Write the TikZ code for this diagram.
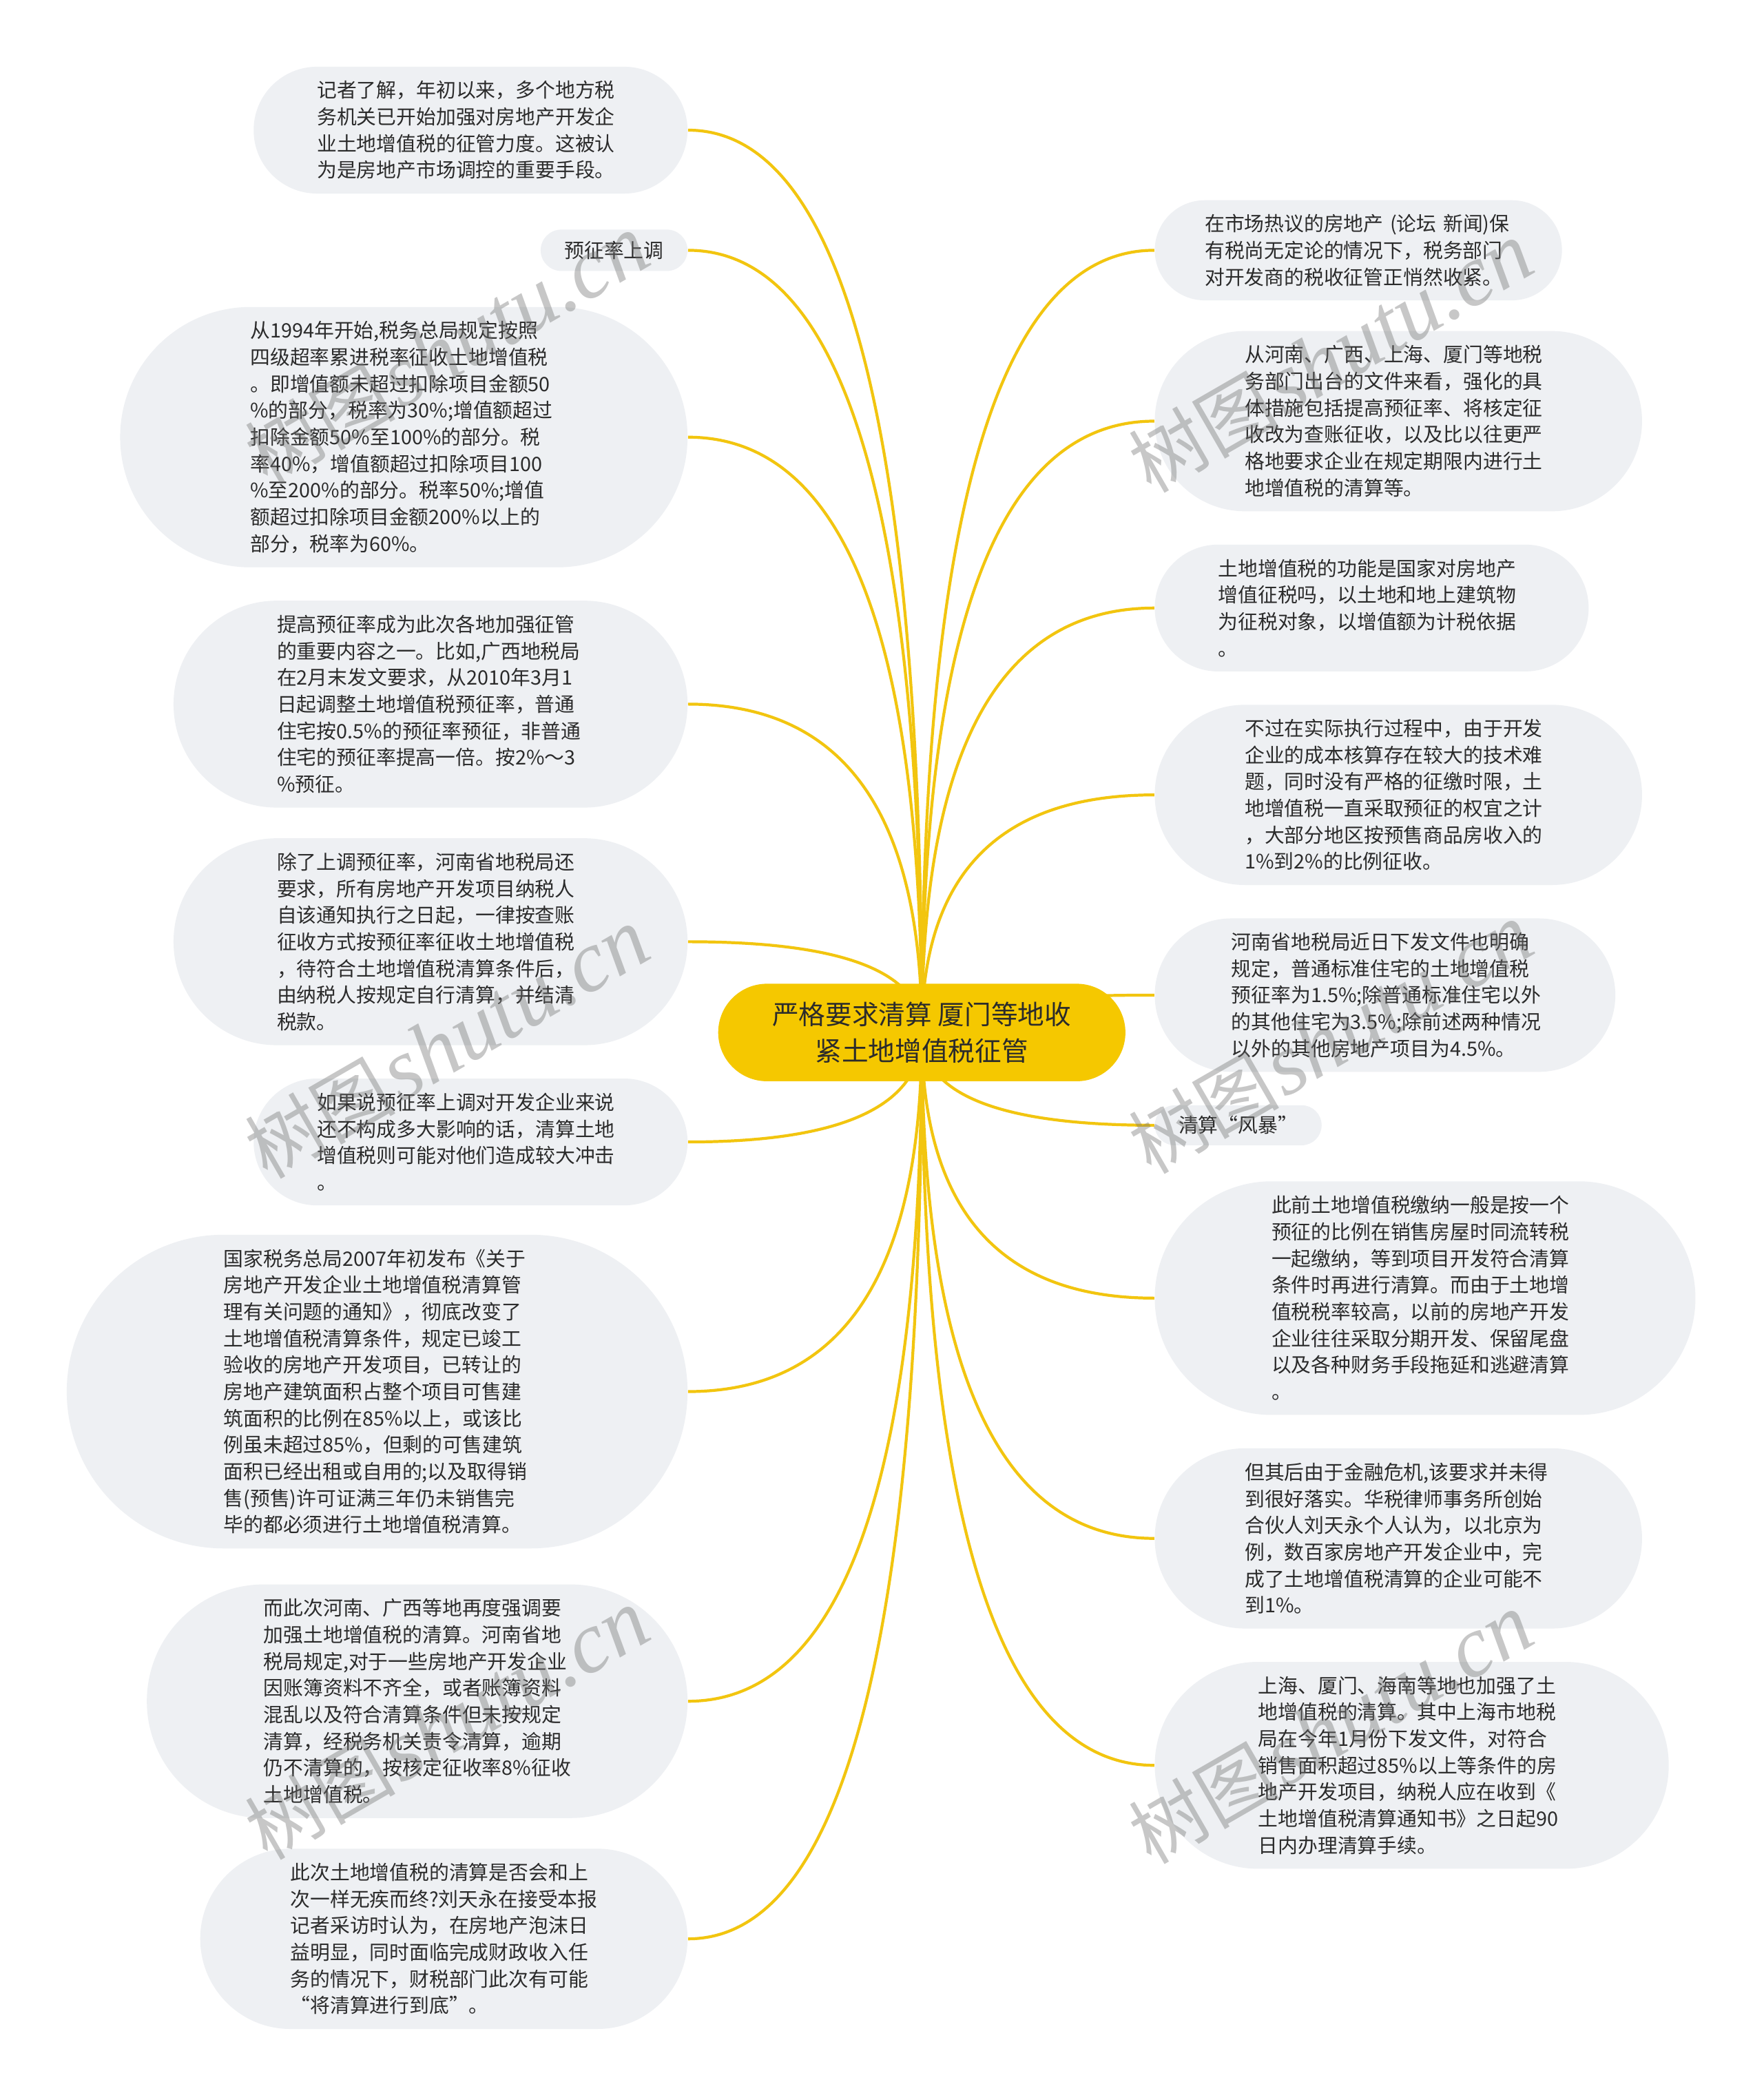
\documentclass[tikz,border=0pt]{standalone}
\usepackage{fontspec}
\setmainfont{Noto Sans CJK SC}
\newfontfamily\cjkf{Noto Sans CJK SC}
\newfontfamily\wmlat{Liberation Serif}
\usetikzlibrary{calc,backgrounds}
\definecolor{bubbg}{HTML}{EEF0F3}
\definecolor{gold}{HTML}{F5C800}
\definecolor{linec}{HTML}{F2C50F}
\definecolor{txt}{HTML}{2B2B2B}
\tikzset{
  bub/.style={fill=bubbg, draw=none, minimum width=(230+#1)*0.01938cm,
    minimum height=#1*0.01938cm, rounded corners=#1*0.00969cm,
    text width=4.457cm, align=left, inner sep=0pt, text=txt,
    font=\fontsize{8.2pt}{11pt}\selectfont},
  tag/.style 2 args={fill=bubbg, draw=none, minimum width=#1*0.01938cm,
    minimum height=#2*0.01938cm, rounded corners=#2*0.00969cm,
    inner sep=0pt, text=txt, font=\fontsize{8.2pt}{11pt}\selectfont},
  cnode/.style={fill=gold, draw=none, minimum width=5.911cm, minimum height=1.415cm,
    rounded corners=0.707cm, inner sep=0pt, align=center, text=txt,
    font=\fontsize{11pt}{14.9pt}\selectfont},
  conn/.style={draw=linec, line width=1.2pt},
  wm/.style={text=black!55, opacity=0.4, rotate=30, inner sep=0pt}
}
\newcommand{\lnk}[2]{%
  \coordinate (q) at (C.center |- #1.#2);
  \draw[conn] (C.center) .. controls ($(C.center)!0.6667!(q)$) and ($(#1.#2)!0.6667!(q)$) .. (#1.#2);}
\begin{document}
\begin{tikzpicture}[x=0.01938cm, y=-0.01938cm]
\useasboundingbox (0,0) rectangle (1321,1568);

% center
\node[cnode] (C) at (690.5,773.5) {严格要求清算 厦门等地收\\紧土地增值税征管};

% left column
\node[bub=95] (L1) at (352.5,97.5) {记者了解，年初以来，多个地方税\\务机关已开始加强对房地产开发企\\业土地增值税的征管力度。这被认\\为是房地产市场调控的重要手段。};
\node[tag={110}{31}] (L2) at (460,187.5) {预征率上调};
\node[bub=195] (L3) at (302.5,327.5) {从1994年开始,税务总局规定按照\\四级超率累进税率征收土地增值税\\。即增值额未超过扣除项目金额50\\\%的部分，税率为30\%;增值额超过\\扣除金额50\%至100\%的部分。税\\率40\%，增值额超过扣除项目100\\\%至200\%的部分。税率50\%;增值\\额超过扣除项目金额200\%以上的\\部分，税率为60\%。};
\node[bub=155] (L4) at (322.5,527.5) {提高预征率成为此次各地加强征管\\的重要内容之一。比如,广西地税局\\在2月末发文要求，从2010年3月1\\日起调整土地增值税预征率，普通\\住宅按0.5\%的预征率预征，非普通\\住宅的预征率提高一倍。按2\%～3\\\%预征。};
\node[bub=155] (L5) at (322.5,705.5) {除了上调预征率，河南省地税局还\\要求，所有房地产开发项目纳税人\\自该通知执行之日起，一律按查账\\征收方式按预征率征收土地增值税\\，待符合土地增值税清算条件后，\\由纳税人按规定自行清算，并结清\\税款。};
\node[bub=95] (L6) at (352.5,855.5) {如果说预征率上调对开发企业来说\\还不构成多大影响的话，清算土地\\增值税则可能对他们造成较大冲击\\。};
\node[bub=235] (L7) at (282.5,1042.5) {国家税务总局2007年初发布《关于\\房地产开发企业土地增值税清算管\\理有关问题的通知》，彻底改变了\\土地增值税清算条件，规定已竣工\\验收的房地产开发项目，已转让的\\房地产建筑面积占整个项目可售建\\筑面积的比例在85\%以上，或该比\\例虽未超过85\%，但剩的可售建筑\\面积已经出租或自用的;以及取得销\\售(预售)许可证满三年仍未销售完\\毕的都必须进行土地增值税清算。};
\node[bub=175] (L8) at (312.5,1274.5) {而此次河南、广西等地再度强调要\\加强土地增值税的清算。河南省地\\税局规定,对于一些房地产开发企业\\因账簿资料不齐全，或者账簿资料\\混乱以及符合清算条件但未按规定\\清算，经税务机关责令清算，逾期\\仍不清算的，按核定征收率8\%征收\\土地增值税。};
\node[bub=135] (L9) at (332.5,1452.5) {此次土地增值税的清算是否会和上\\次一样无疾而终?刘天永在接受本报\\记者采访时认为，在房地产泡沫日\\益明显，同时面临完成财政收入任\\务的情况下，财税部门此次有可能\\“将清算进行到底”。};

% right column
\node[bub=75] (R1) at (1017.5,187.5) {在市场热议的房地产~(论坛~新闻)保\\有税尚无定论的情况下，税务部门\\对开发商的税收征管正悄然收紧。};
\node[bub=135] (R2) at (1047.5,315.5) {从河南、广西、上海、厦门等地税\\务部门出台的文件来看，强化的具\\体措施包括提高预征率、将核定征\\收改为查账征收，以及比以往更严\\格地要求企业在规定期限内进行土\\地增值税的清算等。};
\node[bub=95] (R3) at (1027.5,455.5) {土地增值税的功能是国家对房地产\\增值征税吗，以土地和地上建筑物\\为征税对象，以增值额为计税依据\\。};
\node[bub=135] (R4) at (1047.5,595.5) {不过在实际执行过程中，由于开发\\企业的成本核算存在较大的技术难\\题，同时没有严格的征缴时限，土\\地增值税一直采取预征的权宜之计\\，大部分地区按预售商品房收入的\\1\%到2\%的比例征收。};
\node[bub=115] (R5) at (1037.5,745.5) {河南省地税局近日下发文件也明确\\规定，普通标准住宅的土地增值税\\预征率为1.5\%;除普通标准住宅以外\\的其他住宅为3.5\%;除前述两种情况\\以外的其他房地产项目为4.5\%。};
\node[tag={125}{30}] (R6) at (927.5,843) {清算“风暴”};
\node[bub=175] (R7) at (1067.5,972.5) {此前土地增值税缴纳一般是按一个\\预征的比例在销售房屋时同流转税\\一起缴纳，等到项目开发符合清算\\条件时再进行清算。而由于土地增\\值税税率较高，以前的房地产开发\\企业往往采取分期开发、保留尾盘\\以及各种财务手段拖延和逃避清算\\。};
\node[bub=135] (R8) at (1047.5,1152.5) {但其后由于金融危机,该要求并未得\\到很好落实。华税律师事务所创始\\合伙人刘天永个人认为，以北京为\\例，数百家房地产开发企业中，完\\成了土地增值税清算的企业可能不\\到1\%。};
\node[bub=155] (R9) at (1057.5,1322.5) {上海、厦门、海南等地也加强了土\\地增值税的清算。其中上海市地税\\局在今年1月份下发文件，对符合\\销售面积超过85\%以上等条件的房\\地产开发项目，纳税人应在收到《\\土地增值税清算通知书》之日起90\\日内办理清算手续。};

\begin{scope}[on background layer]
  \fill[white] (0,0) rectangle (1321,1568);
  \lnk{L1}{east}\lnk{L2}{east}\lnk{L3}{east}\lnk{L4}{east}\lnk{L5}{east}
  \lnk{L6}{east}\lnk{L7}{east}\lnk{L8}{east}\lnk{L9}{east}
  \lnk{R1}{west}\lnk{R2}{west}\lnk{R3}{west}\lnk{R4}{west}\lnk{R5}{west}
  \lnk{R6}{west}\lnk{R7}{west}\lnk{R8}{west}\lnk{R9}{west}
\end{scope}

% watermarks
\foreach \i/\x/\y in {1/335/262, 2/335/782, 3/335/1292, 4/997/268, 5/997/778, 6/997/1295}{
  \node[wm] (W\i) at (\x,\y) {{\fontsize{31pt}{33pt}\selectfont\cjkf 树图}\,{\fontsize{36pt}{38pt}\selectfont\wmlat\itshape shutu.cn}};
}
\end{tikzpicture}
\end{document}
